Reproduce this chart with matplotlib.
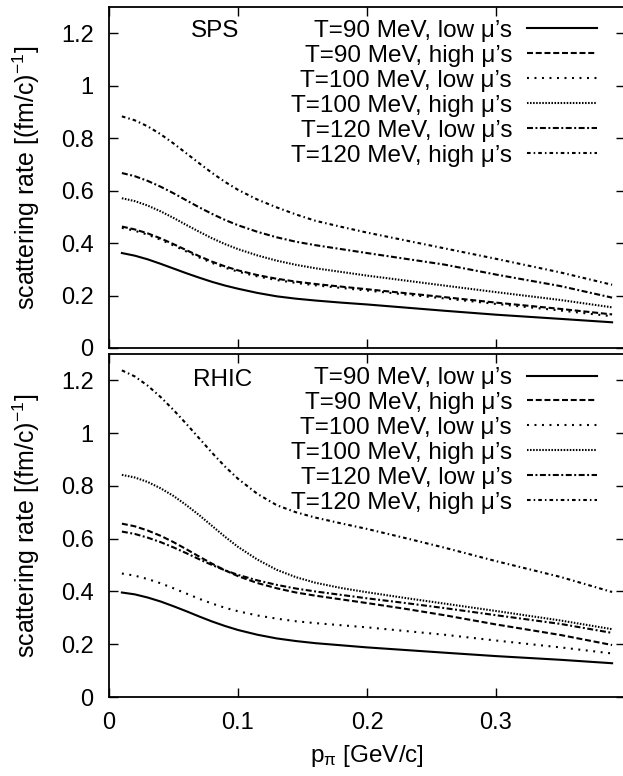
import numpy as np
import matplotlib
matplotlib.use("Agg")
import matplotlib.pyplot as plt

plt.rcParams['font.family'] = ['Liberation Sans', 'DejaVu Sans']
plt.rcParams['mathtext.fontset'] = 'custom'
plt.rcParams['mathtext.rm'] = 'Liberation Sans'
plt.rcParams['mathtext.it'] = 'Liberation Sans:italic'

# pion momentum [GeV/c]
p_pi = [0.01, 0.02, 0.03, 0.04, 0.05, 0.06, 0.07, 0.08, 0.09, 0.10, 0.115,
        0.13, 0.145, 0.16, 0.18, 0.20, 0.23, 0.26, 0.30, 0.35, 0.39]

labels = ["T=90 MeV, low \u03bc\u2019s", "T=90 MeV, high \u03bc\u2019s",
          "T=100 MeV, low \u03bc\u2019s", "T=100 MeV, high \u03bc\u2019s",
          "T=120 MeV, low \u03bc\u2019s", "T=120 MeV, high \u03bc\u2019s"]

# SPS scattering rates [(fm/c)^-1]
sps_t90_low = [0.362, 0.352, 0.338, 0.321, 0.303, 0.285, 0.268, 0.252, 0.238, 0.226, 0.210,
               0.197, 0.188, 0.181, 0.173, 0.166, 0.154, 0.142, 0.127, 0.111, 0.098]
sps_t90_high = [0.463, 0.452, 0.437, 0.418, 0.396, 0.373, 0.350, 0.329, 0.311, 0.296, 0.278,
                0.264, 0.253, 0.244, 0.234, 0.224, 0.209, 0.194, 0.173, 0.149, 0.128]
sps_t100_low = [0.458, 0.447, 0.432, 0.413, 0.391, 0.368, 0.345, 0.324, 0.306, 0.291, 0.273,
                0.259, 0.248, 0.239, 0.229, 0.219, 0.204, 0.189, 0.168, 0.143, 0.121]
sps_t100_high = [0.571, 0.560, 0.543, 0.521, 0.496, 0.469, 0.443, 0.418, 0.396, 0.377, 0.353,
                 0.333, 0.317, 0.304, 0.290, 0.276, 0.257, 0.238, 0.213, 0.183, 0.155]
sps_t120_low = [0.667, 0.655, 0.637, 0.615, 0.590, 0.563, 0.536, 0.511, 0.488, 0.468, 0.443,
                0.422, 0.405, 0.392, 0.377, 0.362, 0.340, 0.318, 0.280, 0.236, 0.192]
sps_t120_high = [0.883, 0.868, 0.845, 0.815, 0.780, 0.742, 0.704, 0.667, 0.633, 0.603, 0.566,
                 0.536, 0.509, 0.485, 0.462, 0.440, 0.410, 0.380, 0.340, 0.288, 0.241]

# RHIC scattering rates [(fm/c)^-1]
rhic_t90_low = [0.396, 0.389, 0.377, 0.362, 0.344, 0.325, 0.305, 0.286, 0.269, 0.254, 0.236,
                0.222, 0.212, 0.204, 0.196, 0.188, 0.178, 0.168, 0.155, 0.141, 0.128]
rhic_t90_high = [0.657, 0.647, 0.631, 0.611, 0.587, 0.560, 0.532, 0.505, 0.480, 0.458, 0.432,
                 0.412, 0.396, 0.384, 0.370, 0.356, 0.334, 0.310, 0.275, 0.235, 0.197]
rhic_t100_low = [0.468, 0.460, 0.447, 0.431, 0.412, 0.392, 0.372, 0.354, 0.338, 0.325, 0.309,
                 0.297, 0.287, 0.280, 0.272, 0.264, 0.250, 0.236, 0.214, 0.188, 0.165]
rhic_t100_high = [0.842, 0.832, 0.815, 0.791, 0.762, 0.727, 0.689, 0.648, 0.607, 0.569, 0.521,
                  0.482, 0.454, 0.433, 0.413, 0.397, 0.375, 0.354, 0.326, 0.290, 0.257]
rhic_t120_low = [0.627, 0.618, 0.604, 0.587, 0.567, 0.545, 0.522, 0.500, 0.480, 0.463, 0.442,
                 0.425, 0.411, 0.400, 0.387, 0.374, 0.356, 0.337, 0.310, 0.277, 0.243]
rhic_t120_high = [1.238, 1.215, 1.180, 1.137, 1.088, 1.035, 0.980, 0.925, 0.873, 0.827, 0.770,
                  0.727, 0.700, 0.680, 0.658, 0.637, 0.602, 0.566, 0.515, 0.455, 0.398]

sps = [sps_t90_low, sps_t90_high, sps_t100_low, sps_t100_high, sps_t120_low, sps_t120_high]
rhic = [rhic_t90_low, rhic_t90_high, rhic_t100_low, rhic_t100_high, rhic_t120_low, rhic_t120_high]

lw = 1.5
# gnuplot-ish dash patterns (in points, divided by lw because matplotlib scales them)
pats = [None, (4.3, 2.0), (1.4, 4.0), (1.1, 1.1), (4.3, 1.8, 1.4, 1.8), (2.6, 2.2, 1.1, 2.2)]

fig = plt.figure(figsize=(6.23, 7.76), dpi=100)
W, H = 623.0, 776.0
ax1 = fig.add_axes([109 / W, 1 - 348 / H, 516 / W, 341 / H])
ax2 = fig.add_axes([109 / W, 1 - 697 / H, 516 / W, 343 / H])

fs_tick = 17
fs = 17.5
for ax, data, name, npos in [(ax1, sps, "SPS", (0.082, 1.21)), (ax2, rhic, "RHIC", (0.088, 1.20))]:
    for y, lab, pat in zip(data, labels, pats):
        line, = ax.plot(p_pi, y, color='black', lw=lw, label=lab)
        if pat is not None:
            line.set_dashes([v / lw for v in pat])
    ax.set_xlim(0, 0.4)
    ax.set_ylim(0, 1.3)
    ax.set_xticks([0, 0.1, 0.2, 0.3])
    ax.set_yticks([0, 0.2, 0.4, 0.6, 0.8, 1.0, 1.2])
    ax.set_yticklabels(["0", "0.2", "0.4", "0.6", "0.8", "1", "1.2"])
    ax.tick_params(direction='in', length=6.5, width=1.0, top=True, right=True,
                   labelsize=fs_tick, pad=11)
    for s in ax.spines.values():
        s.set_linewidth(1.3)
    ax.set_ylabel(r"scattering rate [(fm/c)$^{\mathrm{-1}}$]", fontsize=18)
    ax.yaxis.set_label_coords(-0.13, 0.5)
    ax.text(npos[0], npos[1], name, fontsize=fs, ha='center', va='center')
    ax.legend(loc='upper right', bbox_to_anchor=(0.946, 0.962), frameon=False,
              markerfirst=False, fontsize=fs, borderpad=0, borderaxespad=0,
              handlelength=2.88, handletextpad=0.62, labelspacing=0.12)

ax1.set_xticklabels([])
ax2.set_xticklabels(["0", "0.1", "0.2", "0.3"])
ax2.set_xlabel(r"p$_{\mathrm{\pi}}$ [GeV/c]", fontsize=fs, labelpad=6)

fig.savefig("out.png", dpi=100)
